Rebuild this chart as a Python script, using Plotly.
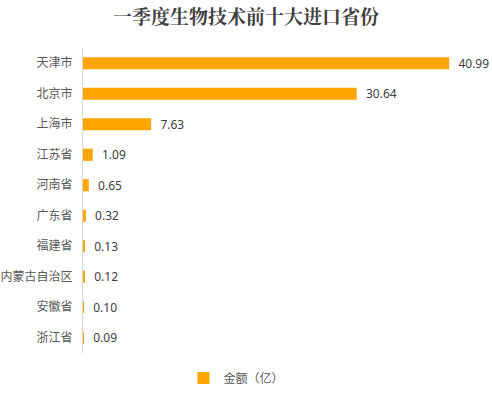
import plotly.graph_objects as go

provinces = ["天津市", "北京市", "上海市", "江苏省", "河南省", "广东省", "福建省", "内蒙古自治区", "安徽省", "浙江省"]
amounts = [40.99, 30.64, 7.63, 1.09, 0.65, 0.32, 0.13, 0.12, 0.10, 0.09]
series_name = "金额（亿）"
title_text = "一季度生物技术前十大进口省份"

fig = go.Figure()
fig.add_trace(go.Bar(
    y=provinces, x=amounts, orientation="h", name=series_name,
    marker=dict(color="#FFA500", line=dict(width=0)),
    text=[f"  {v:.2f}" for v in amounts], textposition="outside",
    constraintext="none",
    textfont=dict(size=12, color="#404040", family="Noto Sans, Noto Sans CJK SC"),
    cliponaxis=False, showlegend=True,
))
fig.update_layout(
    width=492, height=396,
    margin=dict(l=83, r=7, t=48, b=43, autoexpand=False),
    plot_bgcolor="white", paper_bgcolor="white",
    bargap=0.6,
    title=dict(text=title_text, x=0.5, xanchor="center", y=0.955, yanchor="middle",
               font=dict(size=19, color="#404040", family="Noto Serif CJK SC, Noto Sans CJK SC", weight="bold")),
    xaxis=dict(range=[0, 45], showgrid=False, zeroline=False, showticklabels=False,
               showline=False),
    yaxis=dict(autorange="reversed", showgrid=False, showline=True, linecolor="#d9d9d9",
               linewidth=1, ticks="", ticklen=0, ticklabelstandoff=7,
               tickfont=dict(size=12, color="#595959", family="Noto Sans CJK SC")),
    legend=dict(orientation="h", x=0.25, xanchor="left", y=-0.082, yanchor="middle",
                font=dict(size=12, color="#595959", family="Noto Sans CJK SC")),
    font=dict(family="Noto Sans CJK SC"),
)
fig.write_html("out.html", config={"displayModeBar": False},
               post_script="document.body.style.margin='0';")
